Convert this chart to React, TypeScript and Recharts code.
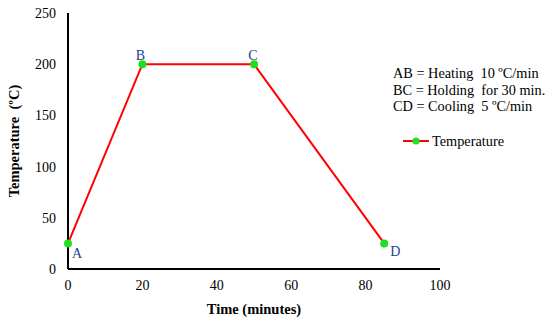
import { LineChart, Line, XAxis, YAxis, LabelList } from 'recharts';

const times = [0, 20, 50, 85];
const temps = [25, 200, 200, 25];
const pointNames = ['A', 'B', 'C', 'D'];
const xTicks = [0, 20, 40, 60, 80, 100];
const yTicks = [0, 50, 100, 150, 200, 250];
const notes = [
  'AB = Heating\u00a0\u00a010 \u00baC/min',
  'BC = Holding\u00a0\u00a0for 30 min.',
  'CD = Cooling\u00a0\u00a05 \u00baC/min',
];

const data = times.map((t, i) => ({ time: t, temp: temps[i], name: pointNames[i] }));

const FONT = '"Liberation Serif", "Times New Roman", serif';
const LABEL_OFFSETS = [
  { dx: 9, dy: 15 },
  { dx: -2, dy: -4 },
  { dx: -1, dy: -4 },
  { dx: 11, dy: 13 },
];

function PointLabel(props: any) {
  const { x, y, index } = props;
  const off = LABEL_OFFSETS[index] || { dx: 0, dy: 0 };
  return (
    <text x={x + off.dx} y={y + off.dy} textAnchor="middle" fill="#243f8f" fontSize={14} fontFamily={FONT}>
      {pointNames[index]}
    </text>
  );
}

function Notes() {
  return (
    <div
      style={{
        position: 'absolute',
        left: 393,
        top: 65,
        fontFamily: FONT,
        fontSize: 14.3,
        color: '#000',
        lineHeight: '16.5px',
      }}
    >
      {notes.map((n) => (
        <div key={n} style={{ whiteSpace: 'nowrap' }}>{n}</div>
      ))}
      <div style={{ display: 'flex', alignItems: 'center', marginTop: 18, marginLeft: 10 }}>
        <svg width={26} height={10} style={{ marginRight: 3 }}>
          <line x1={0} y1={5} x2={26} y2={5} stroke="#ff0000" strokeWidth={2} />
          <circle cx={13} cy={5} r={3.5} fill="#1ee01e" />
        </svg>
        <span>Temperature</span>
      </div>
    </div>
  );
}

export default function App() {
  return (
    <div style={{ position: 'absolute', left: 0, top: 0, width: 550, height: 320, background: '#fff' }}>
      <LineChart width={550} height={320} data={data} margin={{ top: 13, right: 110, left: 0, bottom: 0 }}>
        <XAxis
          dataKey="time"
          type="number"
          domain={[0, 100]}
          ticks={xTicks}
          tickLine={false}
          tickMargin={5}
          height={51}
          axisLine={{ stroke: '#000', strokeWidth: 2 }}
          tick={{ fill: '#000', fontSize: 14, fontFamily: FONT }}
          label={{ value: 'Time (minutes)', position: 'insideBottom', offset: 6, fill: '#000', fontSize: 14.5, fontWeight: 'bold', fontFamily: FONT }}
        />
        <YAxis
          type="number"
          domain={[0, 250]}
          ticks={yTicks}
          tickLine={false}
          tickMargin={6}
          width={68}
          axisLine={{ stroke: '#000', strokeWidth: 2 }}
          tick={{ fill: '#000', fontSize: 14, fontFamily: FONT }}
          label={{ value: 'Temperature\u00a0\u00a0(\u00baC)', angle: -90, position: 'insideLeft', offset: 14, style: { textAnchor: 'middle' }, fill: '#000', fontSize: 14.5, fontWeight: 'bold', fontFamily: FONT }}
        />
        <Line
          dataKey="temp"
          name="Temperature"
          stroke="#ff0000"
          strokeWidth={2}
          dot={{ r: 4, fill: '#1ee01e', stroke: 'none' }}
          activeDot={false}
          isAnimationActive={false}
        >
          <LabelList dataKey="name" content={PointLabel} />
        </Line>
      </LineChart>
      <Notes />
    </div>
  );
}
